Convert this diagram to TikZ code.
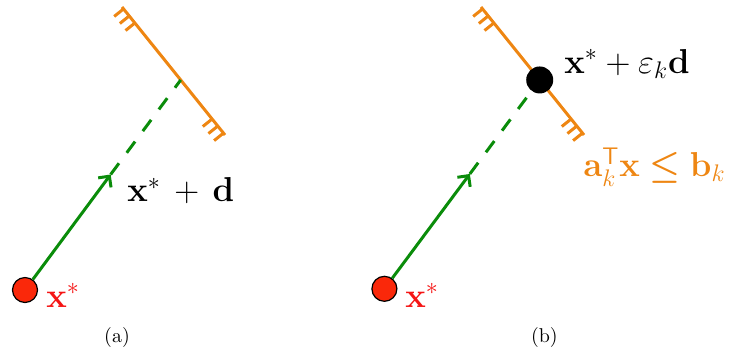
\documentclass[tikz,border=0pt]{standalone}
\usepackage{amsmath,amssymb}
\usepackage{tikz}
\usetikzlibrary{arrows.meta,calc}
\definecolor{wallcol}{RGB}{238,134,18}
\definecolor{dircol}{RGB}{10,140,10}
\definecolor{ptcol}{RGB}{250,40,10}
\definecolor{lblred}{RGB}{245,20,20}

\begin{document}
\begin{tikzpicture}[
  x=10pt, y=10pt,
  >={Straight Barb[length=4pt,width=8pt]},
  wall/.style={draw=wallcol, line width=1.5pt},
  hatch/.style={draw=wallcol, line width=1.5pt},
  xstar/.style={circle, draw=black, fill=ptcol, line width=0.6pt,
                minimum size=12.5pt, inner sep=0pt},
  hitpt/.style={circle, fill=black, minimum size=13.5pt, inner sep=0pt},
  dir/.style={draw=dircol, line width=1.5pt},
  lbl/.style={font=\fontsize{18.2}{22}\selectfont, inner sep=0pt, anchor=base west},
]
\useasboundingbox (0,0) rectangle (36.55,17.8);

% constraint walls
\coordinate (a-top) at (6.1,17.45);  \coordinate (a-bot) at (11.25,11.05);
\coordinate (b-top) at (24.05,17.45); \coordinate (b-bot) at (29.2,11.05);
\draw[wall] (a-top) -- (a-bot);
\draw[wall] (b-top) -- (b-bot);
\foreach \e in {a,b}
  \foreach \t in {0.015,0.07,0.125,0.875,0.93,0.985}{
    \coordinate (h) at ($(\e-top)!\t!(\e-bot)$);
    \draw[hatch] (h) -- ($(h)!6pt!90:(\e-top)$);
  }

% (a)
\node[xstar] (a-x) at (1.25,3.3) {};
\coordinate (a-hit) at ($(a-top)!0.57!(a-bot)$);
\coordinate (a-tip) at ($(a-x)!0.55!(a-hit)$);
\draw[dir,->] (a-x) -- (a-tip);
\draw[dir,dash pattern=on 7pt off 6.5pt] (a-tip) -- (a-hit);
\node[lbl, text=lblred] (a-xl) at (2.3,2.43) {$\mathbf{x}^*$};
\node[lbl] (a-dl) at (6.35,7.72) {$\mathbf{x}^* \,+\, \mathbf{d}$};
\node[anchor=base] (a-cap) at (5.85,0.7) {(a)};

% (b)
\node[xstar] (b-x) at (19.22,3.36) {};
\node[hitpt] (b-hit) at ($(b-top)!0.57!(b-bot)$) {};
\coordinate (b-tip) at ($(b-x)!0.55!(b-hit)$);
\draw[dir,->] (b-x) -- (b-tip);
\draw[dir,dash pattern=on 7pt off 6.5pt] (b-tip) -- (b-hit);
\node[lbl, text=lblred] (b-xl) at (20.25,2.45) {$\mathbf{x}^*$};
\node[lbl] (b-dl) at (28.2,14.13) {$\mathbf{x}^* + \varepsilon_k\mathbf{d}$};
\node[lbl, text=wallcol] (b-cl) at (29.15,8.97)
  {$\mathbf{a}_k^{\mathsf{T}}\mathbf{x} \boldsymbol{\leq} \mathbf{b}_k$};
\node[anchor=base] (b-cap) at (27.22,0.7) {(b)};
\end{tikzpicture}
\end{document}
